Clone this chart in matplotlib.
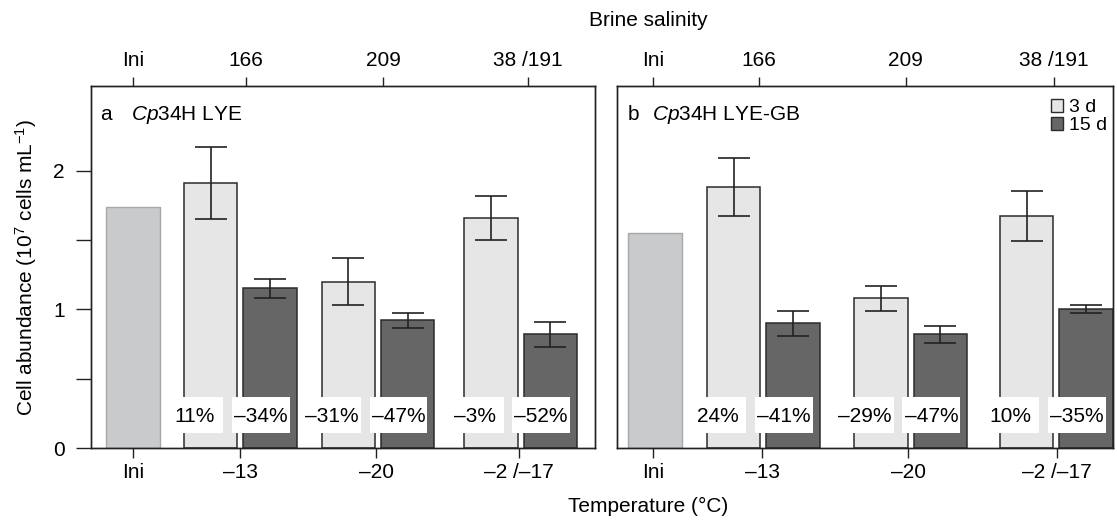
import numpy as np
import matplotlib.pyplot as plt
from matplotlib.patches import Rectangle, Patch

plt.rcParams['font.family'] = ['Liberation Sans', 'DejaVu Sans']
plt.rcParams['mathtext.fontset'] = 'custom'
plt.rcParams['mathtext.rm'] = 'Liberation Sans'
plt.rcParams['mathtext.it'] = 'Liberation Sans:italic'

# --- data ---
temp_labels = ["Ini", "–13", "–20", "–2 /–17"]
salinity_labels = ["Ini", "166", "209", "38 /191"]

ini_a = 1.74
d3_a = [1.91, 1.20, 1.66]
d3_err_a = [0.26, 0.17, 0.16]
d15_a = [1.15, 0.92, 0.82]
d15_err_a = [0.07, 0.055, 0.09]
pct3_a = ["11%", "–31%", "–3%"]
pct15_a = ["–34%", "–47%", "–52%"]

ini_b = 1.55
d3_b = [1.88, 1.08, 1.675]
d3_err_b = [0.21, 0.09, 0.18]
d15_b = [0.90, 0.82, 1.00]
d15_err_b = [0.09, 0.06, 0.03]
pct3_b = ["24%", "–29%", "10%"]
pct15_b = ["–41%", "–47%", "–35%"]

# --- layout (bar-width units) ---
FS = 15
C_INI, E_INI = "#c9cacc", "#a8a8a8"
C_3D, C_15D, EDGE = "#e6e6e6", "#666666", "#2b2b2b"
OFF = 0.555
YMAX = 2.61


def draw_panel(ax, ini, d3, e3, d15, e15, p3, p15, ini_x, pairs, xmax,
               bot_ticks, top_ticks, letter, title, title_x):
    pairs = np.array(pairs)
    x3 = pairs - OFF
    x15 = pairs + OFF
    ax.bar(ini_x, ini, width=1.0, color=C_INI, edgecolor=E_INI, linewidth=1.0, zorder=2)
    ax.bar(x3, d3, width=1.0, color=C_3D, edgecolor=EDGE, linewidth=1.1, zorder=2)
    ax.bar(x15, d15, width=1.0, color=C_15D, edgecolor=EDGE, linewidth=1.1, zorder=2)
    ax.errorbar(x3, d3, yerr=e3, fmt='none', ecolor="#222222", elinewidth=1.2,
                capsize=11.5, capthick=1.2, zorder=3)
    ax.errorbar(x15, d15, yerr=e15, fmt='none', ecolor="#222222", elinewidth=1.2,
                capsize=11.5, capthick=1.2, zorder=3)

    # percentage labels on white boxes
    for xs, labels, shift in ((x3, p3, -0.3), (x15, p15, -0.17)):
        for x, lab in zip(xs, labels):
            xc = x + shift
            ax.add_patch(Rectangle((xc - 0.54, 0.108), 1.08, 0.26, facecolor="white",
                                   edgecolor="none", zorder=4))
            ax.text(xc, 0.224, lab, ha='center', va='center', fontsize=FS, zorder=5)

    ax.set_xlim(0, xmax)
    ax.set_ylim(0, YMAX)
    ax.set_xticks(bot_ticks)
    ax.set_xticklabels(temp_labels)
    ax.tick_params(axis='x', length=7, width=1, pad=3.5, labelsize=FS, color="#222222")
    for s in ax.spines.values():
        s.set_linewidth(1.0)
        s.set_color("#222222")

    axt = ax.twiny()
    axt.set_xlim(0, xmax)
    axt.set_xticks(top_ticks)
    axt.set_xticklabels(salinity_labels)
    axt.tick_params(axis='x', length=6.5, width=1, pad=5, labelsize=FS, color="#222222")
    for s in axt.spines.values():
        s.set_linewidth(1.0)
        s.set_color("#222222")

    ax.text(0.018 if letter == "a" else 0.022, 0.92, letter, transform=ax.transAxes,
            ha='left', va='center', fontsize=FS)
    ax.text(title_x, 0.92, title, transform=ax.transAxes, ha='left', va='center', fontsize=FS)


fig = plt.figure(figsize=(11.17, 5.22), dpi=100)
ax1 = fig.add_axes([91 / 1117, 74 / 522, 504 / 1117, 362 / 522])
ax2 = fig.add_axes([617 / 1117, 74 / 522, 496 / 1117, 362 / 522])

draw_panel(ax1, ini_a, d3_a, d3_err_a, d15_a, d15_err_a, pct3_a, pct15_a,
           0.785, [2.79, 5.364, 8.03], 9.42,
           [0.785, 2.785, 5.327, 8.0], [0.785, 2.897, 5.458, 8.168],
           "a", r"$\mathit{Cp}$34H LYE", 0.079)
draw_panel(ax2, ini_b, d3_b, d3_err_b, d15_b, d15_err_b, pct3_b, pct15_b,
           0.71, [2.734, 5.49, 8.21], 9.27,
           [0.67, 2.71, 5.44, 8.22], [0.67, 2.654, 5.40, 8.168],
           "b", r"$\mathit{Cp}$34H LYE-GB", 0.0706)

ax1.set_yticks([0, 1, 2])
ax1.set_yticks([0.5, 1.5], minor=True)
ax1.tick_params(axis='y', which='both', length=11, width=1, pad=8, labelsize=FS, color="#222222")
ax2.tick_params(axis='y', which='both', left=False, labelleft=False)

handles = [Patch(facecolor=C_3D, edgecolor=EDGE, linewidth=1.0, label="3 d"),
           Patch(facecolor=C_15D, edgecolor=EDGE, linewidth=1.0, label="15 d")]
leg = ax2.legend(handles=handles, loc='upper left', bbox_to_anchor=(0.874, 0.965),
                 frameon=False, fontsize=14, handlelength=0.65, handleheight=0.65,
                 handletextpad=0.3, labelspacing=0.05, borderaxespad=0, borderpad=0)
leg.set_zorder(6)

fig.text(648 / 1117, 1 - 20 / 522, "Brine salinity", ha='center', va='center', fontsize=FS)
fig.text(648 / 1117, 1 - 506 / 522, "Temperature (°C)", ha='center', va='center', fontsize=FS)
fig.text(26 / 1117, 1 - 267 / 522, r"Cell abundance (10$^{7}$ cells mL$^{-1}$)",
         ha='center', va='center', rotation=90, fontsize=FS)

fig.savefig("out.png", dpi=100)
